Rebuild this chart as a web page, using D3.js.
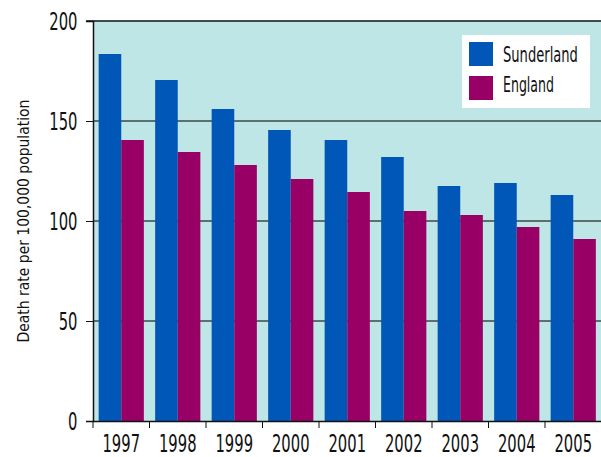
<!DOCTYPE html>
<html>
<head>
<meta charset="utf-8">
<script src="https://cdn.jsdelivr.net/npm/d3@7"></script>
<style>
  html, body { margin: 0; padding: 0; background: #ffffff; }
  svg { display: block; }
  text { font-family: "DejaVu Sans", sans-serif; fill: #111; }
</style>
</head>
<body>
<script>
// Death rates per 100,000 population, 1997–2005
const years = ["1997", "1998", "1999", "2000", "2001", "2002", "2003", "2004", "2005"];
const seriesNames = ["Sunderland", "England"];
const sunderland = [183.5, 170.5, 156, 145.5, 140.5, 132, 117.5, 119, 113];
const england = [140.5, 134.5, 128, 121, 114.5, 105, 103, 97, 91];
const yTicks = [0, 50, 100, 150, 200];
const colors = ["#0057b8", "#990066"];

const W = 601, H = 457;
const margin = { top: 21, right: 0, bottom: 36, left: 93 };
const innerW = W - margin.left - margin.right;
const innerH = H - margin.top - margin.bottom;
const digitW = 9.4; // narrow digit width for condensed labels

// Squeeze a text horizontally about its own x so it spans the given width
function condense(sel, widthFn) {
  sel.each(function (d, i) {
    const t = d3.select(this);
    const natural = this.getComputedTextLength();
    const target = widthFn(d, i);
    const s = target / natural;
    const ax = +t.attr("x") || 0;
    t.attr("transform", `translate(${ax},0) scale(${s},1) translate(${-ax},0)`);
  });
}

const svg = d3.select("body").append("svg").attr("width", W).attr("height", H);
const g = svg.append("g").attr("transform", `translate(${margin.left},${margin.top})`);

const x = d3.scaleBand().domain(years).range([0, innerW + 0.5]).paddingInner(0.2).paddingOuter(0.1);
const xBand = d3.scaleBand().domain(years).range([0, innerW + 0.5]);
const xSub = d3.scaleBand().domain(seriesNames).range([0, x.bandwidth()]);
const y = d3.scaleLinear().domain([0, 200]).range([innerH, 0]);

// plot background
g.append("rect").attr("x", 0).attr("y", 0).attr("width", innerW).attr("height", innerH).attr("fill", "#bfe6e6");

// horizontal gridlines
g.selectAll(".grid").data(yTicks.filter(t => t > 0 && t < 200)).join("line")
  .attr("x1", 0).attr("x2", innerW)
  .attr("y1", d => y(d)).attr("y2", d => y(d))
  .attr("stroke", "#3c4848").attr("stroke-width", 1.5);

// bars
const rows = years.map((yr, i) => ({ year: yr, values: [sunderland[i], england[i]] }));
const grp = g.selectAll(".grp").data(rows).join("g")
  .attr("transform", d => `translate(${x(d.year)},0)`);
grp.selectAll("rect").data(d => d.values.map((v, k) => ({ key: seriesNames[k], v, k }))).join("rect")
  .attr("x", d => xSub(d.key))
  .attr("y", d => y(d.v))
  .attr("width", xSub.bandwidth())
  .attr("height", d => y(0) - y(d.v))
  .attr("fill", d => colors[d.k]);

// top line at 200
g.append("line").attr("x1", -7).attr("x2", innerW).attr("y1", y(200)).attr("y2", y(200))
  .attr("stroke", "#111").attr("stroke-width", 1.5);

// y axis
const yAxis = g.append("g").call(d3.axisLeft(y).tickValues(yTicks).tickSize(7).tickPadding(9));
yAxis.select(".domain").attr("stroke", "#111").attr("stroke-width", 1.5);
yAxis.selectAll(".tick line").attr("stroke", "#111");
yAxis.selectAll("text")
  .attr("font-size", 24).attr("x", -15.5).attr("dy", "0.36em").style("fill", "#111")
  .call(condense, d => String(d).length * digitW);

// x axis
const xAxis = g.append("g").attr("transform", `translate(0,${innerH})`)
  .call(d3.axisBottom(xBand).tickSize(0).tickPadding(0));
xAxis.select(".domain").attr("stroke", "#111").attr("stroke-width", 1.5);
xAxis.selectAll("text")
  .attr("font-size", 24).attr("y", 31).attr("dy", 0).style("fill", "#111")
  .call(condense, d => d.length * digitW);
// ticks between categories
xAxis.selectAll(".sep").data(years).join("line")
  .attr("x1", d => xBand(d)).attr("x2", d => xBand(d))
  .attr("y1", 0).attr("y2", 7).attr("stroke", "#111");

// y axis title
const yTitle = svg.append("g")
  .attr("transform", `translate(29,${margin.top + innerH / 2}) rotate(-90)`);
yTitle.append("text")
  .attr("text-anchor", "middle")
  .attr("font-size", 15)
  .text("Death rate per 100,000 population")
  .call(condense, () => 243);

// legend
const legendWidths = [75, 51];
const lg = svg.append("g").attr("transform", "translate(462,35)");
lg.append("rect").attr("width", 128).attr("height", 73).attr("fill", "#ffffff");
seriesNames.forEach((name, i) => {
  lg.append("rect").attr("x", 7).attr("y", 7 + i * 34).attr("width", 24).attr("height", 24).attr("fill", colors[i]);
  lg.append("text").attr("x", 41).attr("y", 27 + i * 30.5).attr("font-size", 20.5)
    .text(name)
    .call(condense, () => legendWidths[i]);
});
</script>
</body>
</html>
